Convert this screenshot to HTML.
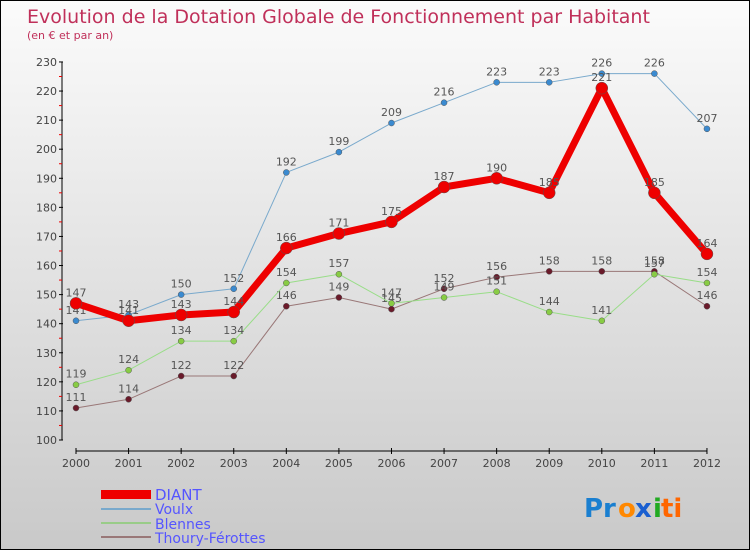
<!DOCTYPE html>
<html><head><meta charset="utf-8"><style>
html,body{margin:0;padding:0}
body{width:750px;height:550px;overflow:hidden;font-family:"DejaVu Sans","Liberation Sans",sans-serif}
#c{position:relative;width:748px;height:548px;border:1px solid #000;background:linear-gradient(#fbfbfb,#c9c9c9)}
</style></head><body>
<div id="c">
<svg id="s" width="748" height="548" style="position:absolute;left:0;top:0">
<text x="26" y="22" font-size="19" fill="#c0305a">Evolution de la Dotation Globale de Fonctionnement par Habitant</text>
<text x="26" y="38" font-size="11" fill="#c0305a">(en € et par an)</text>
<g id="ax"></g><g id="ser"></g>
<g>
<rect x="100" y="489" width="50" height="9" fill="#e00"/>
<text x="154" y="499" font-size="15" fill="#55f">DIANT</text>
<line x1="100" y1="508" x2="150" y2="508" stroke="#79a9cc" stroke-width="2"/>
<text x="154" y="513" font-size="14" fill="#55f">Voulx</text>
<line x1="100" y1="522" x2="150" y2="522" stroke="#9c8" stroke-width="2"/>
<text x="154" y="528" font-size="14" fill="#55f">Blennes</text>
<line x1="100" y1="536" x2="150" y2="536" stroke="#977" stroke-width="2"/>
<text x="154" y="542" font-size="14" fill="#55f">Thoury-Férottes</text>
</g>
<g font-size="26" font-weight="bold">
<text x="583" y="516" fill="#1a7fd0">Pr</text><text x="617" y="516" fill="#f80">o</text><text x="634" y="516" fill="#1a5fd0">x</text><text x="652" y="516" fill="#2a2">i</text><text x="660" y="516" fill="#f60">ti</text>
</g>
</svg>
</div>
<script>
const years=["2000","2001","2002","2003","2004","2005","2006","2007","2008","2009","2010","2011","2012"];
const diant=[147,141,143,144,166,171,175,187,190,185,221,185,164];
const voulx=[141,143,150,152,192,199,209,216,223,223,226,226,207];
const blennes=[119,124,134,134,154,157,147,149,151,144,141,157,154];
const thoury=[111,114,122,122,146,149,145,152,156,158,158,158,146];
const yTicks=[100,110,120,130,140,150,160,170,180,190,200,210,220,230];
const NS="http://www.w3.org/2000/svg";
const X=i=>75+i*52.58, Y=v=>439-(v-100)*2.908;
function mk(t,a,p,txt){const e=document.createElementNS(NS,t);for(const k in a)e.setAttribute(k,a[k]);if(txt!==undefined)e.textContent=txt;p.appendChild(e);return e;}
const ax=document.getElementById('ax'),ser=document.getElementById('ser');
let e=mk('line',{x1:61,y1:Y(230),x2:61,y2:Y(100),stroke:'#000'},ax);

yTicks.forEach(v=>{mk('line',{x1:58,y1:Y(v),x2:62,y2:Y(v),stroke:'#000'},ax);
 if(v<230)mk('line',{x1:58,y1:Y(v+5),x2:61,y2:Y(v+5),stroke:'#e00'},ax);
 const t=mk('text',{x:56,y:Y(v)+4,'font-size':11,fill:'#444','text-anchor':'end'},ax,v);
 });
e=mk('line',{x1:X(0),y1:450,x2:X(12),y2:450,stroke:'#000'},ax);

years.forEach((y,i)=>{mk('line',{x1:X(i),y1:447,x2:X(i),y2:453,stroke:'#000'},ax);
 const t=mk('text',{x:X(i),y:466,'font-size':11,fill:'#444','text-anchor':'middle'},ax,y);
 });
function series(d,name,col,w,r,dot,lab){const g=mk('g',{},ser);
 
 mk('polyline',{points:d.map((v,i)=>X(i)+','+Y(v)).join(' '),fill:'none',stroke:col,'stroke-width':w,'stroke-linejoin':'round'},g);
 d.forEach((v,i)=>{const c=mk('circle',{cx:X(i),cy:Y(v),r:r,fill:dot,stroke:'#555','stroke-width':0.5},g);
  
  const t=mk('text',{x:X(i),y:Y(v)-7,'font-size':11,fill:'#555','text-anchor':'middle'},g,v);
  });}
series(thoury,'thoury','#977',1,3,'#6a1a2a');
series(blennes,'blennes','#9d8',1,3,'#8c4');
series(voulx,'voulx','#79a9cc',1,3,'#3a8ad0');
series(diant,'diant','#e00',7,6,'#e00');
</script>
</body></html>
